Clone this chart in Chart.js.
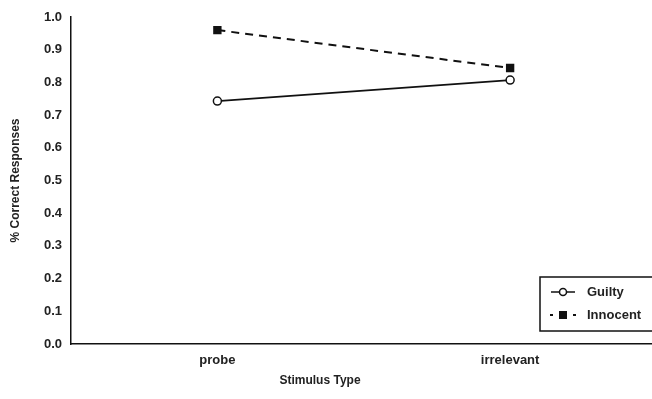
<!DOCTYPE html>
<html>
<head>
<meta charset="utf-8">
<script src="https://cdn.jsdelivr.net/npm/chart.js@4/dist/chart.umd.min.js"></script>
<style>
  html, body { margin: 0; padding: 0; background: #fff; overflow: hidden; }
  #wrap { width: 663px; height: 399px; position: relative; }
</style>
</head>
<body>
<div id="wrap"><canvas id="chart"></canvas></div>
<script>
const categories = ["probe", "irrelevant"];
const guilty = [0.743, 0.807];
const innocent = [0.96, 0.844];
const yTicks = [0, 0.1, 0.2, 0.3, 0.4, 0.5, 0.6, 0.7, 0.8, 0.9, 1.0];
const xTitle = "Stimulus Type";

const fontFamily = "Liberation Sans, Arial, sans-serif";
const tickFont = { family: fontFamily, size: 13, weight: "bold" };

// legend box in the lower right corner plus the x-axis title, as in the figure
const boxLegend = {
  id: "boxLegend",
  afterDraw(chart) {
    const ctx = chart.ctx;
    const x0 = 540, y0 = 277, w = 130, h = 54;
    ctx.save();
    ctx.fillStyle = "#fff";
    ctx.fillRect(x0, y0, w, h);
    ctx.strokeStyle = "#111";
    ctx.lineWidth = 1.5;
    ctx.strokeRect(x0, y0, w, h);

    // Guilty
    let y = 292;
    ctx.beginPath();
    ctx.moveTo(551, y); ctx.lineTo(575, y);
    ctx.stroke();
    ctx.beginPath();
    ctx.arc(563, y, 3.5, 0, Math.PI * 2);
    ctx.fillStyle = "#fff";
    ctx.fill();
    ctx.stroke();

    // Innocent
    y = 315;
    ctx.fillStyle = "#111";
    ctx.fillRect(550, y - 1, 3, 2);
    ctx.fillRect(573, y - 1, 3, 2);
    ctx.fillRect(559, y - 4, 8, 8);

    ctx.fillStyle = "#222";
    ctx.font = "bold 13px " + fontFamily;
    ctx.textBaseline = "middle";
    ctx.fillText("Guilty", 587, 292);
    ctx.fillText("Innocent", 587, 315);

    ctx.font = "bold 12px " + fontFamily;
    ctx.textAlign = "center";
    ctx.fillText(xTitle, 320, 381);
    ctx.restore();
  }
};

new Chart(document.getElementById("chart"), {
  type: "line",
  data: {
    labels: categories,
    datasets: [
      {
        label: "Guilty",
        data: guilty,
        borderColor: "#111",
        borderWidth: 1.8,
        pointStyle: "circle",
        pointRadius: 4,
        pointBackgroundColor: "#fff",
        pointBorderColor: "#111",
        pointBorderWidth: 1.5,
        tension: 0
      },
      {
        label: "Innocent",
        data: innocent,
        borderColor: "#111",
        borderWidth: 2,
        borderDash: [8, 6],
        pointStyle: "rect",
        pointRadius: 4.5,
        pointBackgroundColor: "#111",
        pointBorderColor: "#111",
        tension: 0
      }
    ]
  },
  options: {
    responsive: true,
    maintainAspectRatio: false,
    animation: false,
    layout: { padding: { top: 17, right: 0, left: 0, bottom: 0 } },
    plugins: {
      legend: { display: false },
      tooltip: { enabled: false }
    },
    scales: {
      x: {
        offset: true,
        grid: { display: false, drawTicks: false },
        border: { color: "#111", width: 1.5 },
        ticks: { color: "#222", font: tickFont, padding: 9 },
        afterFit(scale) { scale.height = 55; }
      },
      y: {
        min: 0,
        max: 1,
        afterBuildTicks(scale) { scale.ticks = yTicks.map(v => ({ value: v })); },
        grid: { display: false, drawTicks: true, tickLength: 3, tickColor: "#111" },
        border: { color: "#111", width: 1.5 },
        ticks: {
          color: "#222",
          font: tickFont,
          padding: 6,
          callback: v => v.toFixed(1)
        },
        title: {
          display: true,
          text: "% Correct Responses",
          color: "#222",
          font: { family: fontFamily, size: 12, weight: "bold" },
          padding: { top: 8, bottom: 4 }
        },
        afterFit(scale) { scale.width = 71; }
      }
    }
  },
  plugins: [boxLegend]
});
</script>
</body>
</html>
